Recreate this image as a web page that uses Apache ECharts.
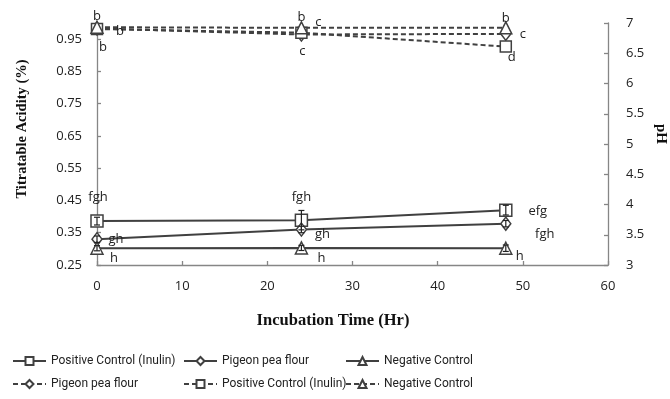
<!DOCTYPE html>
<html><head><meta charset="utf-8">
<script src="https://cdn.jsdelivr.net/npm/echarts@6/dist/echarts.min.js"></script>
<style>html,body{margin:0;padding:0;background:#fff}#c{width:670px;height:399px}</style>
</head><body><div id="c"></div>
<script>
// ---- data ----
var hours = [0, 24, 48];
// Titratable acidity (%) - left axis, solid lines
var taPositive = [0.386, 0.389, 0.42];
var taPigeon = [0.33, 0.36, 0.378];
var taNegative = [0.302, 0.303, 0.302];
var taPositiveErr = [0.012, 0.03, 0.015];
var taPigeonErr = [0.01, 0.01, 0.01];
var taNegativeErr = [0.008, 0.008, 0.01];
var taPositiveLetters = ['fgh', 'fgh', 'efg'];
var taPigeonLetters = ['gh', 'gh', 'fgh'];
var taNegativeLetters = ['h', 'h', 'h'];
// pH - right axis, dashed lines
var phPigeon = [6.91, 6.81, 6.82];
var phPositive = [6.90, 6.84, 6.61];
var phNegative = [6.93, 6.92, 6.92];
var phPigeonLetters = ['b', 'c', 'c'];
var phPositiveLetters = ['b', 'c', 'd'];
var phNegativeLetters = ['b', 'b', 'b'];
var leftTicks = [0.25, 1.0, 0.1];
var rightTicks = [3, 7, 0.5];
var xTicks = [0, 60, 10];
var titles = { x: 'Incubation Time (Hr)', yLeft: 'Titratable Acidity (%)', yRight: 'pH' };

var DARK = '#404040';
var FONT = '"Open Sans", sans-serif';
var SERIF = '"Liberation Serif", "Times New Roman", serif';

function build(vals, letters, offsets) {
  return vals.map(function (v, i) {
    return {
      value: [hours[i], v],
      label: { show: true, formatter: letters[i], position: 'inside', offset: offsets[i],
        color: '#222', fontSize: 13, fontFamily: FONT, align: 'center', verticalAlign: 'middle' }
    };
  });
}
function lineSeries(name, vals, letters, offsets, symbol, size, yIdx, dashed) {
  return {
    name: name, type: 'line', yAxisIndex: yIdx, data: build(vals, letters, offsets),
    symbol: symbol, symbolSize: size, showSymbol: true,
    lineStyle: { color: DARK, width: 2, type: dashed ? [5, 3] : 'solid' },
    itemStyle: { color: '#fff', borderColor: DARK, borderWidth: 1.5 },
    emphasis: { disabled: true }, z: 3
  };
}
function errSeries(vals, errs) {
  return {
    type: 'custom', yAxisIndex: 0, z: 4, silent: true,
    data: vals.map(function (v, i) { return [hours[i], v - errs[i], v + errs[i]]; }),
    renderItem: function (params, api) {
      var lo = api.coord([api.value(0), api.value(1)]);
      var hi = api.coord([api.value(0), api.value(2)]);
      var w = 3;
      var st = { stroke: '#222', lineWidth: 1.2 };
      return { type: 'group', children: [
        { type: 'line', shape: { x1: hi[0], y1: hi[1], x2: lo[0], y2: lo[1] }, style: st },
        { type: 'line', shape: { x1: hi[0] - w, y1: hi[1], x2: hi[0] + w, y2: hi[1] }, style: st },
        { type: 'line', shape: { x1: lo[0] - w, y1: lo[1], x2: lo[0] + w, y2: lo[1] }, style: st }
      ]};
    }
  };
}

var series = [
  lineSeries('Positive Control (Inulin)', taPositive, taPositiveLetters, [[1, -24], [0, -23], [32, 1]], 'rect', 12, 0, false),
  lineSeries('Pigeon pea flour', taPigeon, taPigeonLetters, [[19, 0], [21, 5], [39, 11]], 'diamond', [10, 13], 0, false),
  lineSeries('Negative Control', taNegative, taNegativeLetters, [[17, 10], [20, 10], [14, 8]], 'triangle', 12, 0, false),
  lineSeries('pH Pigeon pea flour', phPigeon, phPigeonLetters, [[23, 3], [1, 17], [17, 0]], 'diamond', [10, 13], 1, true),
  lineSeries('pH Positive Control (Inulin)', phPositive, phPositiveLetters, [[6, 18], [17, -10], [6, 11]], 'rect', 11, 1, true),
  lineSeries('pH Negative Control', phNegative, phNegativeLetters, [[0, -11], [0, -11], [0, -10]], 'triangle', 12, 1, true),
  errSeries(taPositive, taPositiveErr),
  errSeries(taPigeon, taPigeonErr),
  errSeries(taNegative, taNegativeErr)
];

var legendPos = [
  ['Positive Control (Inulin)', 12, 355],
  ['Pigeon pea flour', 183, 355],
  ['Negative Control', 345, 355],
  ['pH Pigeon pea flour', 12, 378],
  ['pH Positive Control (Inulin)', 183, 378],
  ['pH Negative Control', 345, 378]
];
var legends = legendPos.map(function (p) {
  return {
    data: [p[0]], left: p[1], top: p[2], itemWidth: 33, itemHeight: 10, padding: 0,
    selectedMode: false,
    formatter: function (n) { return n.replace(/^pH /, ''); },
    textStyle: { fontFamily: 'Roboto, sans-serif', fontSize: 12, color: '#222' }
  };
});

var axisLineStyle = { color: '#868686', width: 1.3 };
var option = {
  animation: false,
  backgroundColor: '#fff',
  grid: { left: 97, right: 62, top: 23, bottom: 134 },
  graphic: [
    { type: 'text', x: 333, y: 321, silent: true,
      style: { text: titles.x, font: 'bold 16.5px ' + SERIF, fill: '#111', textAlign: 'center', textVerticalAlign: 'middle' } },
    { type: 'text', x: 22, y: 129, rotation: Math.PI / 2, silent: true,
      style: { text: titles.yLeft, font: 'bold 14.5px ' + SERIF, fill: '#111', textAlign: 'center', textVerticalAlign: 'middle' } },
    { type: 'text', x: 661, y: 134, rotation: -Math.PI / 2, silent: true,
      style: { text: titles.yRight, font: 'bold 15px ' + SERIF, fill: '#111', textAlign: 'center', textVerticalAlign: 'middle' } }
  ],
  legend: legends,
  xAxis: {
    type: 'value', min: xTicks[0], max: xTicks[1], interval: xTicks[2],
    axisLine: { lineStyle: axisLineStyle },
    axisTick: { show: true, inside: true, length: 4, lineStyle: axisLineStyle },
    splitLine: { show: false },
    axisLabel: { fontFamily: FONT, fontSize: 13, color: '#222', margin: 15 }
  },
  yAxis: [
    {
      type: 'value', min: leftTicks[0], max: leftTicks[1], interval: leftTicks[2],
      axisLine: { show: true, lineStyle: axisLineStyle },
      axisTick: { show: true, inside: true, length: 4, lineStyle: axisLineStyle },
      splitLine: { show: false },
      axisLabel: { fontFamily: FONT, fontSize: 13, color: '#222', margin: 15, showMaxLabel: false,
        formatter: function (v) { return v.toFixed(2); } }
    },
    {
      type: 'value', min: rightTicks[0], max: rightTicks[1], interval: rightTicks[2], position: 'right',
      axisLine: { show: true, lineStyle: axisLineStyle },
      axisTick: { show: true, inside: true, length: 4, lineStyle: axisLineStyle },
      splitLine: { show: false },
      axisLabel: { fontFamily: FONT, fontSize: 13, color: '#222', margin: 18 }
    }
  ],
  series: series
};
var chart = echarts.init(document.getElementById('c'), null, { renderer: 'canvas' });
chart.setOption(option);
</script></body></html>
